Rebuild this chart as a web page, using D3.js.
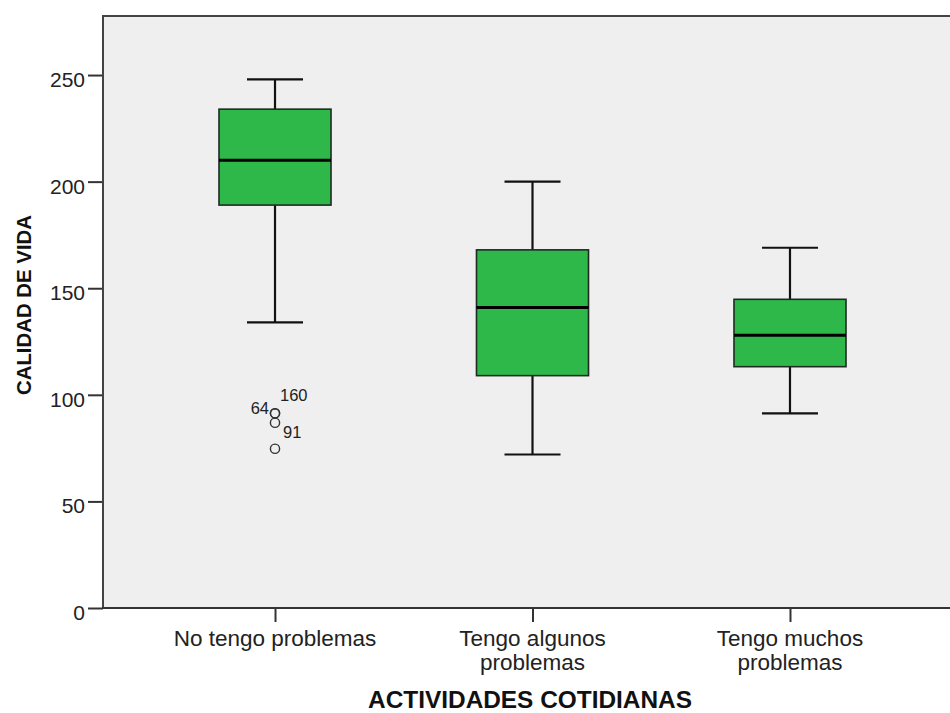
<!DOCTYPE html>
<html>
<head>
<meta charset="utf-8">
<script src="https://cdn.jsdelivr.net/npm/d3@7"></script>
<style>
  html, body { margin: 0; padding: 0; background: #ffffff; }
  svg { display: block; font-family: "Liberation Sans", Arial, sans-serif; }
</style>
</head>
<body>
<svg id="chart" width="950" height="713"></svg>
<script>
// Calidad de vida por nivel de problemas en actividades cotidianas
const categories = ["No tengo problemas", "Tengo algunos problemas", "Tengo muchos problemas"];
const categoryLines = [["No tengo problemas"], ["Tengo algunos", "problemas"], ["Tengo muchos", "problemas"]];
const whiskerLow = [134, 72, 91.3];
const q1 = [189, 109, 113.2];
const median = [210, 141, 128];
const q3 = [234, 168, 144.8];
const whiskerHigh = [248, 200, 169];
const outlierCategory = [0, 0, 0, 0];
const outlierValues = [91.3, 91.3, 86.9, 74.7];
const outlierIds = ["64", "160", "91", ""];
const yTicks = [0, 50, 100, 150, 200, 250];
const yMax = 277.7;
const xTitle = "ACTIVIDADES COTIDIANAS";
const yTitle = "CALIDAD DE VIDA";

const svg = d3.select("#chart");
const plot = { left: 103, top: 16, right: 962, bottom: 608 };

const x = d3.scalePoint().domain(categories).range([plot.left, plot.right]).padding(0.668);
const y = d3.scaleLinear().domain([0, yMax]).range([plot.bottom, plot.top]);
const step = x.step();
const boxW = step * 0.435;
const capW = boxW / 2;

// plot background and frame
svg.append("rect")
  .attr("x", plot.left).attr("y", plot.top)
  .attr("width", plot.right - plot.left).attr("height", plot.bottom - plot.top)
  .attr("fill", "#efefef");
svg.append("line")
  .attr("x1", plot.left).attr("x2", plot.right)
  .attr("y1", plot.top).attr("y2", plot.top)
  .attr("stroke", "#444").attr("stroke-width", 2);

// y axis
const yAxis = d3.axisLeft(y).tickValues(yTicks).tickSize(15).tickPadding(3).tickFormat(d3.format("d"));
const gy = svg.append("g").attr("transform", `translate(${plot.left},0)`).call(yAxis);
gy.select(".domain").remove();
gy.selectAll(".tick line").attr("stroke", "#333").attr("stroke-width", 2);
gy.selectAll(".tick text")
  .attr("font-size", 21).attr("fill", "#222")
  .attr("font-family", "'Liberation Sans', Arial, sans-serif")
  .attr("dy", "0.55em");
svg.append("line")
  .attr("x1", plot.left).attr("x2", plot.left)
  .attr("y1", plot.top - 1).attr("y2", plot.bottom)
  .attr("stroke", "#444").attr("stroke-width", 2);

// x axis
const xAxis = d3.axisBottom(x).tickSize(14).tickFormat("");
const gx = svg.append("g").attr("transform", `translate(0,${plot.bottom})`).call(xAxis);
gx.select(".domain").remove();
gx.selectAll(".tick line").attr("stroke", "#333").attr("stroke-width", 2);
svg.append("line")
  .attr("x1", plot.left - 1).attr("x2", plot.right)
  .attr("y1", plot.bottom).attr("y2", plot.bottom)
  .attr("stroke", "#333").attr("stroke-width", 2);

const xLabels = svg.append("g");
categories.forEach((c, i) => {
  const t = xLabels.append("text")
    .attr("x", x(c)).attr("y", 646)
    .attr("text-anchor", "middle")
    .attr("font-size", 22.5).attr("fill", "#222");
  categoryLines[i].forEach((line, j) => {
    t.append("tspan").attr("x", x(c)).attr("dy", j === 0 ? 0 : 23.5).text(line);
  });
});

// axis titles
svg.append("text")
  .attr("x", 530).attr("y", 708)
  .attr("text-anchor", "middle")
  .attr("font-size", 24.4).attr("font-weight", "bold").attr("fill", "#111")
  .text(xTitle);
svg.append("text")
  .attr("transform", `translate(31,305) rotate(-90)`)
  .attr("text-anchor", "middle")
  .attr("font-size", 20.4).attr("font-weight", "bold").attr("fill", "#111")
  .text(yTitle);

// boxes
const boxes = svg.append("g");
categories.forEach((c, i) => {
  const cx = x(c);
  const g = boxes.append("g");
  // whisker stems
  g.append("line").attr("x1", cx).attr("x2", cx)
    .attr("y1", y(q3[i])).attr("y2", y(whiskerHigh[i]))
    .attr("stroke", "#111").attr("stroke-width", 2.2);
  g.append("line").attr("x1", cx).attr("x2", cx)
    .attr("y1", y(q1[i])).attr("y2", y(whiskerLow[i]))
    .attr("stroke", "#111").attr("stroke-width", 2.2);
  // caps
  [whiskerHigh[i], whiskerLow[i]].forEach(v => {
    g.append("line").attr("x1", cx - capW / 2).attr("x2", cx + capW / 2)
      .attr("y1", y(v)).attr("y2", y(v))
      .attr("stroke", "#111").attr("stroke-width", 2.2);
  });
  // box
  g.append("rect")
    .attr("x", cx - boxW / 2).attr("y", y(q3[i]))
    .attr("width", boxW).attr("height", y(q1[i]) - y(q3[i]))
    .attr("fill", "#2fb84a").attr("stroke", "#1f2a22").attr("stroke-width", 1.6);
  // median
  g.append("line").attr("x1", cx - boxW / 2).attr("x2", cx + boxW / 2)
    .attr("y1", y(median[i])).attr("y2", y(median[i]))
    .attr("stroke", "#000").attr("stroke-width", 3);
});

// outliers with case labels
const labelPlacement = [
  { dx: -6, dy: -5, anchor: "end" },
  { dx: 5, dy: -18, anchor: "start" },
  { dx: 8, dy: 9, anchor: "start" },
  { dx: 8, dy: 0, anchor: "start" }
];
const outl = svg.append("g");
outlierValues.forEach((v, k) => {
  const cx = x(categories[outlierCategory[k]]);
  const cy = y(v);
  outl.append("circle").attr("cx", cx).attr("cy", cy).attr("r", 4.6)
    .attr("fill", "none").attr("stroke", "#333").attr("stroke-width", 1.4);
  if (outlierIds[k]) {
    const p = labelPlacement[k];
    outl.append("text")
      .attr("x", cx + p.dx).attr("y", cy + p.dy)
      .attr("dy", "0.35em")
      .attr("text-anchor", p.anchor)
      .attr("font-size", 16.5).attr("fill", "#222")
      .text(outlierIds[k]);
  }
});
</script>
</body>
</html>
